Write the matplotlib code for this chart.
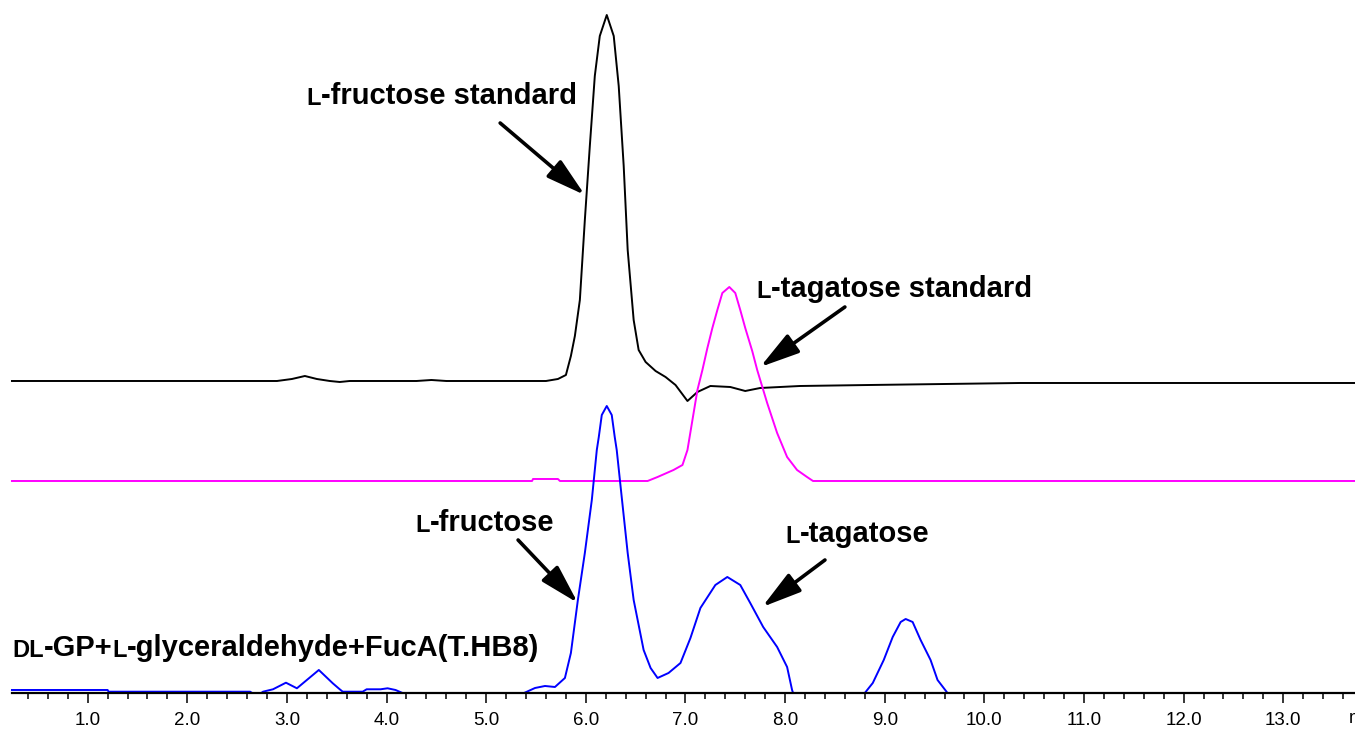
import matplotlib
matplotlib.use("Agg")
import matplotlib.pyplot as plt
from matplotlib.ticker import FormatStrFormatter

plt.rcParams['font.family'] = ['Liberation Sans', 'DejaVu Sans']

# retention time (min) and detector signal
black_t = [0.24, 2.90, 3.05, 3.18, 3.30, 3.43, 3.53, 3.63, 4.30, 4.45, 4.60, 5.60,
           5.72, 5.80, 5.85, 5.89, 5.94, 5.99, 6.04, 6.09, 6.14, 6.21, 6.28, 6.33,
           6.38, 6.42, 6.48, 6.53, 6.60, 6.70, 6.80, 6.90, 7.02, 7.12, 7.25, 7.45,
           7.60, 7.75, 8.15, 8.85, 10.36, 13.72]
black_y = [0, 0, 2, 5, 2, 0, -1, 0, 0, 1, 0, 0,
           2, 6, 25, 45, 81, 161, 235, 305, 345, 366, 345, 295,
           215, 131, 61, 31, 19, 10, 4, -4, -20, -11, -5, -6,
           -10, -7, -5, -4, -2, -2]

magenta_t = [0.24, 5.46, 5.47, 5.72, 5.74, 6.62, 6.72, 6.88, 6.97,
             7.02, 7.07, 7.12, 7.17, 7.22, 7.27, 7.32, 7.37, 7.44, 7.50, 7.55,
             7.60, 7.67, 7.72, 7.82, 7.92, 8.02, 8.12, 8.22, 8.28, 13.72]
magenta_y = [0, 0, 2, 2, 0, 0, 4, 11, 16,
             31, 61, 91, 111, 133, 153, 171, 188, 194, 188, 171,
             153, 130, 111, 78, 48, 24, 11, 4, 0, 0]

blue_t = [0.24, 1.20, 1.21, 2.63, 2.70, 2.76, 2.86, 2.99, 3.10, 3.32, 3.46, 3.53,
          3.56, 3.76, 3.80, 3.94, 4.01, 4.09, 4.16, 4.25, 5.30, 5.38, 5.49, 5.59,
          5.69, 5.79, 5.85, 5.92, 5.99, 6.06, 6.11, 6.13, 6.16, 6.21, 6.26, 6.29,
          6.31, 6.36, 6.42, 6.48, 6.58, 6.65, 6.72, 6.83, 6.95, 7.05, 7.15, 7.30,
          7.42, 7.55, 7.65, 7.78, 7.92, 8.02, 8.07, 8.09, 8.20, 8.70, 8.80, 8.88,
          8.99, 9.08, 9.16, 9.21, 9.28, 9.36, 9.46, 9.53, 9.63, 9.70, 13.72]
blue_y = [3, 3, 1.3, 1.3, -3, 1.3, 3.7, 10.3, 4.7, 23, 9.7, 3.7,
          1.3, 1.3, 3.7, 3.7, 4.7, 3, 0, -5, -5, 0, 5, 7,
          6, 15, 40, 93, 140, 193, 243, 256, 278, 287, 278, 256,
          243, 196, 140, 93, 43, 25, 15, 20, 30, 55, 85, 108,
          116, 108, 90, 66, 46, 26, 3, -3, -6, -6, 0, 10,
          33, 56, 71, 74, 71, 53, 33, 13, 0, -5, -5]

major_ticks = [1, 2, 3, 4, 5, 6, 7, 8, 9, 10, 11, 12, 13]
minor_ticks = [round(0.4 + 0.2 * i, 1) for i in range(67)]

black_offset = 312
magenta_offset = 212


def label(ax, x, y, parts, big=21, small=17):
    """Bold label where the L / DL prefixes are set as small capitals."""
    txt = None
    for s, is_small in parts:
        size = small if is_small else big
        if txt is None:
            txt = ax.text(x, y, s, fontsize=size, fontweight='bold',
                          ha='left', va='baseline')
        else:
            txt = ax.annotate(s, xy=(1, 0), xycoords=txt, fontsize=size,
                              fontweight='bold', ha='left', va='bottom')
    return txt


def arrow(ax, tail, tip):
    ax.annotate('', xy=tip, xytext=tail,
                arrowprops=dict(arrowstyle='-|>,head_length=1.5,head_width=0.42',
                                lw=2.6, color='k', mutation_scale=16,
                                shrinkA=0, shrinkB=0))


fig = plt.figure(figsize=(13.55, 7.31), dpi=100)
ax = fig.add_axes([0, 0.052, 1, 0.948])

ax.plot(black_t, [v + black_offset for v in black_y], color='black', lw=1.4)
ax.plot(magenta_t, [v + magenta_offset for v in magenta_y], color='#ff00ff', lw=1.4)
ax.plot(blue_t, blue_y, color='#0000ff', lw=1.4)

ax.set_xlim(0.12, 13.72)
ax.set_ylim(0, 693)

for side in ['top', 'right', 'left']:
    ax.spines[side].set_visible(False)
ax.spines['bottom'].set_linewidth(1.6)
ax.spines['bottom'].set_bounds(0.24, 13.72)
ax.set_yticks([])

ax.set_xticks(major_ticks)
ax.set_xticks([t for t in minor_ticks if t not in major_ticks], minor=True)
ax.xaxis.set_major_formatter(FormatStrFormatter('%.1f'))
ax.tick_params(axis='x', which='major', direction='out', length=7, width=1.1,
               labelsize=13.5, pad=7)
ax.tick_params(axis='x', which='minor', direction='out', length=4, width=1.1)
ax.annotate('min', xy=(13.66, 0), xycoords='data', xytext=(0, -12),
            textcoords='offset points', ha='left', va='top', fontsize=13.5,
            annotation_clip=False)

label(ax, 3.20, 588, [('L', True), ('-fructose standard', False)])
arrow(ax, (5.14, 570), (5.99, 498))

label(ax, 7.71, 395, [('L', True), ('-tagatose standard', False)])
arrow(ax, (8.60, 386), (7.75, 326))

label(ax, 4.29, 161, [('L', True), ('-fructose', False)])
arrow(ax, (5.32, 153), (5.92, 90))

label(ax, 8.00, 150, [('L', True), ('-tagatose', False)])
arrow(ax, (8.40, 133), (7.77, 86))

label(ax, 0.24, 36, [('DL', True), ('-GP+', False), ('L', True),
                     ('-glyceraldehyde+FucA(T.HB8)', False)])

fig.savefig('out.png', dpi=100)
